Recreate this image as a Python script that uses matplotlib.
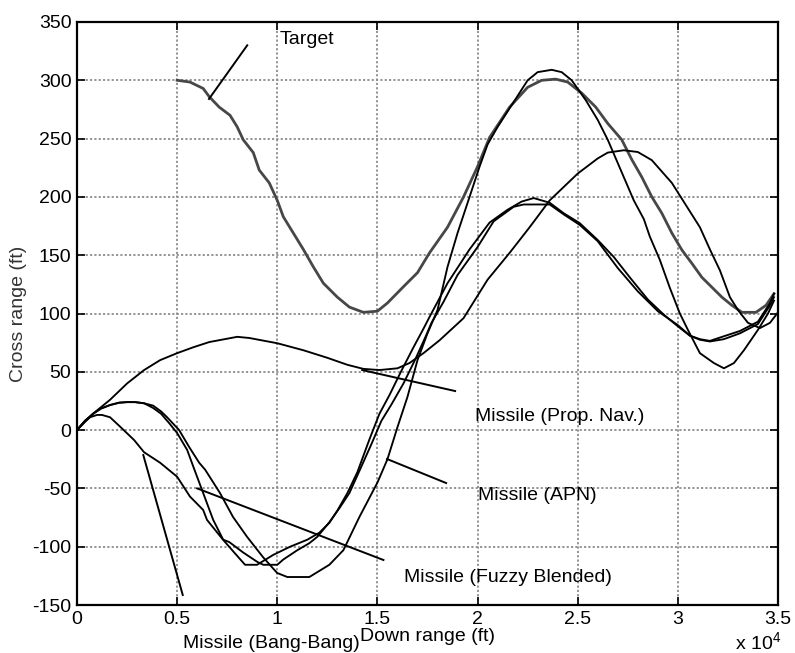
import matplotlib
matplotlib.use("Agg")
import matplotlib.pyplot as plt

plt.rcParams["font.family"] = ["Liberation Sans", "DejaVu Sans"]
plt.rcParams["mathtext.fontset"] = "custom"
plt.rcParams["mathtext.rm"] = "Liberation Sans"
plt.rcParams["axes.unicode_minus"] = False

# Trajectories: down range (ft) vs cross range (ft)
target_x = [5000, 5640, 6300, 6600, 7100, 7640, 8000, 8300, 8800, 9100, 9600, 10000,
            10300, 10800, 11300, 11800, 12300, 13000, 13600, 14300, 15000, 15500, 16300,
            17000, 17600, 18500, 19300, 20000, 20600, 21600, 22500, 23200, 23900, 24500,
            25200, 25900, 26500, 27200, 27700, 28200, 28700, 29200, 29700, 30200, 30700,
            31200, 31700, 32200, 32700, 33200, 33900, 34400, 34800]
target_y = [300, 298.5, 293, 286, 277, 270, 260, 249, 238, 223, 212, 197,
            183, 169, 155, 140, 126, 114, 105.5, 101, 102, 109, 123,
            135, 152, 174, 200, 226, 251, 277, 294, 300, 301, 298.5,
            289, 277, 263, 249, 232, 217, 200, 186, 169, 154.5, 143,
            131, 122.5, 114, 107, 101, 101, 107, 117]

pn_x = [0, 830, 1650, 2500, 3350, 4150, 5000, 5800, 6600, 8000, 8600, 10000, 11300,
        12500, 13500, 14300, 15100, 16000, 16600, 17300, 18100, 19300, 20500, 21600,
        22600, 23600, 25000, 26000, 26500, 27300, 28000, 28700, 29700, 30400, 31100,
        31600, 32100, 32600, 33000, 33500, 34100, 34600, 35000]
pn_y = [0, 14.5, 26, 40, 51.5, 60, 66, 71, 75.5, 80, 79, 74.5, 68.5,
        62, 56, 52.5, 51.5, 53, 57.5, 66, 77, 96, 129, 152,
        174, 197, 220, 233, 238, 240, 238.5, 231.5, 212, 193, 174,
        155, 137, 114, 103, 92, 87.5, 92, 101]

apn_x = [0, 400, 800, 1200, 1650, 2100, 2500, 2900, 3350, 3800, 4200, 4500, 5100,
         5600, 6100, 6400, 7140, 7790, 8490, 9290, 9990, 10500, 11600, 12600, 13300,
         14100, 15000, 15500, 16000, 16500, 17000, 17500, 18000, 18500, 19000, 19600,
         20100, 20500, 21000, 21600, 22500, 23000, 23700, 24200, 24700, 25400, 26000,
         26500, 27000, 27500, 27800, 28300, 28600, 29100, 29600, 30100, 30500, 30800,
         31100, 31800, 32300, 32800, 33300, 34000, 34500, 34800]
apn_y = [0, 8, 14, 18.5, 21.5, 23.5, 24, 24, 23, 21, 16, 11, 0,
         -14.5, -28, -34, -54, -74.5, -91.5, -109, -122.5, -126, -126, -115.5, -103,
         -74.5, -45, -25, 2.5, 28.5, 60, 83, 103, 140, 169, 200,
         226, 245, 260, 276, 300, 307, 309, 307, 300, 283, 266,
         249, 229, 209, 197, 181, 166, 146, 122, 100, 86, 76,
         66, 57.5, 53, 57.5, 68.5, 86, 100, 111]

fz_x = [0, 400, 800, 1200, 1650, 2100, 2500, 2900, 3350, 3800, 4200, 4600, 5000,
        5500, 5800, 6300, 6800, 7300, 7600, 8300, 9000, 9300, 10000, 10300, 11000,
        11600, 12000, 12600, 13100, 13600, 14100, 14700, 15200, 15700, 16300, 16900,
        17400, 17700, 18300, 19000, 20000, 20800, 21800, 22300, 23600, 24300, 25100,
        26000, 27000, 28000, 29000, 30000, 30600, 31100, 31600, 32300, 33100, 34000,
        34600, 34800]
fz_y = [0, 8, 14, 18.5, 21.5, 23.5, 24, 24, 23, 19, 14, 6, -2.5,
        -17, -31, -54, -77, -94, -96, -105, -113, -115.5, -115.5, -111, -103,
        -97, -91.5, -79, -67, -54, -35, -12, 8, 22, 40, 61,
        80, 92, 110, 133, 157, 179, 191.5, 193.5, 193.5, 185, 176,
        162, 139, 119, 102, 90, 81, 77.5, 76, 78, 83, 91,
        107, 114]

bb_x = [0, 300, 650, 1000, 1250, 1650, 2150, 2850, 3350, 4150, 5000, 5640, 6300,
        6490, 7290, 7800, 8390, 8990, 9800, 10640, 11500, 12100, 12600, 13000, 13500,
        14000, 14600, 15100, 15600, 16200, 16800, 17300, 17600, 18500, 19600, 20600,
        21500, 22200, 22800, 23600, 24300, 25100, 26000, 26800, 27600, 28500, 29300,
        30000, 30600, 31100, 31600, 32300, 33100, 34000, 34600, 34800]
bb_y = [0, 6, 11, 13, 13, 11, 3, -8.5, -19, -28, -40, -57, -68.5,
        -77, -94, -104, -115.5, -115.5, -107, -100, -94, -88, -79.5, -69, -54,
        -36, -8, 14, 30, 51, 71, 87, 97, 126, 155, 178,
        189, 196, 199, 195, 186, 177.5, 163, 148.5, 131, 112, 99,
        89, 81, 78, 76.5, 80.5, 85, 93, 109, 117]

x_ticks = [0, 5000, 10000, 15000, 20000, 25000, 30000, 35000]
x_tick_labels = ["0", "0.5", "1", "1.5", "2", "2.5", "3", "3.5"]
y_ticks = [-150, -100, -50, 0, 50, 100, 150, 200, 250, 300, 350]

FS = 14

fig = plt.figure(figsize=(7.95, 6.53), dpi=100)
ax = fig.add_axes([77 / 795, 48 / 653, 701 / 795, 583 / 653])

ax.plot(target_x, target_y, color="0.28", lw=2.0, solid_joinstyle="round")
for xs, ys in [(pn_x, pn_y), (apn_x, apn_y), (fz_x, fz_y), (bb_x, bb_y)]:
    ax.plot(xs, ys, color="black", lw=1.35, solid_joinstyle="round")

ax.set_xlim(0, 35000)
ax.set_ylim(-150, 350)
ax.set_xticks(x_ticks)
ax.set_xticklabels(x_tick_labels)
ax.set_yticks(y_ticks)
ax.grid(True, color="0.55", linestyle=(0, (1.2, 1.2)), lw=1.3)
ax.tick_params(direction="in", top=True, right=True, length=6, width=1.2,
               labelsize=FS, colors="black")
ax.tick_params(axis="x", pad=4)
ax.tick_params(axis="y", pad=4)
for sp in ax.spines.values():
    sp.set_linewidth(1.6)

ax.set_xlabel("Down range (ft)", fontsize=FS, labelpad=0)
ax.set_ylabel("Cross range (ft)", fontsize=FS, labelpad=4, color="0.2")
fig.text(735 / 795, 3 / 653, r"x 10$^4$", fontsize=FS, ha="left", va="baseline")

# Curve labels with leader lines
line_kw = dict(color="black", lw=1.4, clip_on=False)
ax.plot([6590, 8500], [284, 330], **line_kw)
ax.text(10140, 334.6, "Target", fontsize=FS, va="center", ha="left")

ax.plot([14240, 18880], [51.5, 33.5], **line_kw)
ax.text(19880, 12, "Missile (Prop. Nav.)", fontsize=FS, va="center", ha="left")

ax.plot([15480, 18430], [-24.8, -45.4], **line_kw)
ax.text(20010, -55.7, "Missile (APN)", fontsize=FS, va="center", ha="left")

ax.plot([6000, 15300], [-50, -111.4], **line_kw)
ax.text(16350, -126.8, "Missile (Fuzzy Blended)", fontsize=FS, va="center", ha="left")

ax.plot([3310, 5280], [-21.4, -141.4], **line_kw)
ax.text(5300, -183, "Missile (Bang-Bang)", fontsize=FS, va="center", ha="left",
        clip_on=False)

fig.savefig("out.png", dpi=100)
